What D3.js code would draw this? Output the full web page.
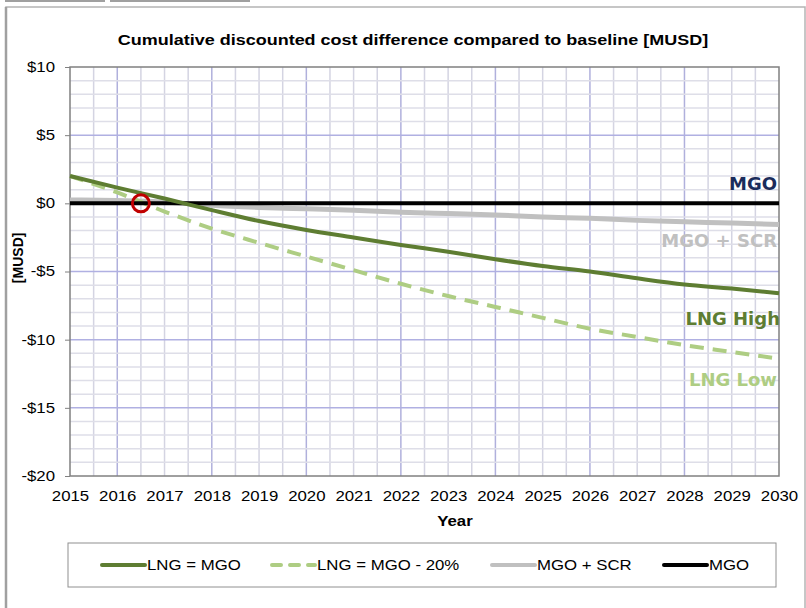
<!DOCTYPE html>
<html>
<head>
<meta charset="utf-8">
<script src="https://cdn.jsdelivr.net/npm/d3@7"></script>
<style>
  body { margin: 0; background: #fff; }
  svg { font-family: "Liberation Sans", Arial, sans-serif; }
  .axis path { display: none; }
  .axis line { stroke: #808080; }
  .axis text { font-size: 14px; fill: #000; }
  .note { font-family: "DejaVu Sans", Verdana, sans-serif; font-weight: bold; font-size: 18px; }
</style>
</head>
<body>
<svg width="806" height="608"></svg>
<script>
var years = [2015, 2016, 2017, 2018, 2019, 2020, 2021, 2022, 2023, 2024, 2025, 2026, 2027, 2028, 2029, 2030];
var lngHigh = [2.0, 1.15, 0.35, -0.5, -1.3, -1.95, -2.5, -3.05, -3.55, -4.1, -4.6, -5.0, -5.5, -5.95, -6.25, -6.6];
var lngLow = [2.0, 0.8, -0.6, -1.85, -2.9, -3.9, -4.9, -5.9, -6.8, -7.6, -8.4, -9.2, -9.8, -10.4, -10.9, -11.4];
var mgoScr = [0.25, 0.2, 0.1, -0.15, -0.3, -0.4, -0.5, -0.65, -0.75, -0.85, -1.0, -1.1, -1.25, -1.35, -1.45, -1.55];
var mgo = [0, 0, 0, 0, 0, 0, 0, 0, 0, 0, 0, 0, 0, 0, 0, 0];
var yTicks = [10, 5, 0, -5, -10, -15, -20];
var seriesNames = ["LNG = MGO", "LNG = MGO - 20%", "MGO + SCR", "MGO"];
var noteLabels = ["MGO", "MGO + SCR", "LNG High", "LNG Low"];
var breakEven = {year: 2016.5, value: 0};

var svg = d3.select("svg"),
    margin = {top: 67, right: 27, bottom: 132, left: 70},
    width = +svg.attr("width") - margin.left - margin.right,
    height = +svg.attr("height") - margin.top - margin.bottom;

var x = d3.scaleLinear().domain([2015, 2030]).range([0, width]),
    y = d3.scaleLinear().domain([-20, 10]).range([height, 0]);

var colors = ["#5e7d32", "#aecd83", "#c0c0c0", "#000000"];
var dashes = [null, "14,9", null, null];
var widths = [4, 4, 5, 4];
var series = [lngHigh, lngLow, mgoScr, mgo];

// the source picture is a bit wider than tall, so Arial text is stretched
var sx = 1.2;
function placeText(sel, px, py) {
  return sel.attr("transform", "translate(" + px + "," + py + ") scale(" + sx + ",1)");
}

// window chrome
svg.append("rect").attr("x", 5).attr("y", 0).attr("width", 100).attr("height", 2).attr("fill", "#a0a0a0");
svg.append("rect").attr("x", 110).attr("y", 0).attr("width", 140).attr("height", 2).attr("fill", "#a0a0a0");
svg.append("rect")
    .attr("x", 6).attr("y", 7).attr("width", 799).attr("height", 640)
    .attr("fill", "none").attr("stroke", "#b4b4b4").attr("stroke-width", 1.5);
svg.append("line").attr("x1", 6).attr("x2", 6).attr("y1", 7).attr("y2", 608)
    .attr("stroke", "#a0a0a0").attr("stroke-width", 2.5);

placeText(svg.append("text"), 413, 45)
    .attr("text-anchor", "middle")
    .attr("font-size", "15px").attr("font-weight", "bold")
    .text("Cumulative discounted cost difference compared to baseline [MUSD]");

var g = svg.append("g")
    .attr("transform", "translate(" + margin.left + "," + margin.top + ")");

// grid
var halfYears = d3.range(2015.5, 2030, 0.5);
g.selectAll(".vgrid")
  .data(halfYears)
  .enter().append("line")
    .attr("class", "vgrid")
    .attr("x1", function(d) { return x(d); })
    .attr("x2", function(d) { return x(d); })
    .attr("y1", 0).attr("y2", height)
    .attr("stroke", function(d) { return d % 2 === 0 ? "#b0b0dc" : "#d4d4e2"; })
    .attr("stroke-width", 1.5);

g.selectAll(".hgrid")
  .data(d3.range(-19, 10, 1))
  .enter().append("line")
    .attr("class", "hgrid")
    .attr("x1", 0).attr("x2", width)
    .attr("y1", function(d) { return y(d); })
    .attr("y2", function(d) { return y(d); })
    .attr("stroke", function(d) { return d % 5 === 0 ? "#b0b0e2" : "#dedee8"; })
    .attr("stroke-width", 1.5);

g.append("rect")
    .attr("width", width).attr("height", height)
    .attr("fill", "none").attr("stroke", "#808080").attr("stroke-width", 1.5);

g.append("g")
    .attr("class", "axis axis--x")
    .attr("transform", "translate(0," + height + ")")
    .call(d3.axisBottom(x).tickValues(years).tickFormat(d3.format("d")).tickSize(0).tickPadding(15))
  .selectAll("text")
    .attr("transform", "scale(" + sx + ",1)");

g.append("g")
    .attr("class", "axis axis--y")
    .call(d3.axisLeft(y).tickValues(yTicks).tickSize(5).tickPadding(7.5)
      .tickFormat(function(d) { return (d < 0 ? "-$" : "$") + Math.abs(d); }))
  .selectAll("text")
    .attr("transform", "scale(" + sx + ",1)");

placeText(g.append("text"), 385, height + 50)
    .attr("text-anchor", "middle")
    .attr("font-size", "14px").attr("font-weight", "bold")
    .text("Year");

g.append("text")
    .attr("transform", "translate(-47," + y(-4) + ") rotate(-90)")
    .attr("text-anchor", "middle")
    .attr("font-size", "14px").attr("font-weight", "bold")
    .text("[MUSD]");

var line = d3.line()
    .x(function(d, i) { return x(years[i]); })
    .y(function(d) { return y(d); })
    .curve(d3.curveMonotoneX);

// draw back to front: scr, low, mgo, high
[2, 1, 3, 0].forEach(function(k) {
  g.append("path")
      .datum(series[k])
      .attr("fill", "none")
      .attr("stroke", colors[k])
      .attr("stroke-width", widths[k])
      .attr("stroke-dasharray", dashes[k])
      .attr("d", line);
});

g.append("circle")
    .attr("cx", x(breakEven.year)).attr("cy", y(breakEven.value))
    .attr("r", 8.5)
    .attr("fill", "none").attr("stroke", "#c00000").attr("stroke-width", 3);

// notes at right end
var noteColors = ["#1a2c5b", "#c0c0c0", "#5e7d32", "#aecd83"];
var noteY = [1.0, -3.2, -8.9, -13.4];
g.selectAll(".note")
  .data(noteLabels)
  .enter().append("text")
    .attr("class", "note")
    .attr("x", function(d, i) { return i === 2 ? width + 1 : width - 2; })
    .attr("y", function(d, i) { return y(noteY[i]); })
    .attr("text-anchor", "end")
    .attr("fill", function(d, i) { return noteColors[i]; })
    .text(function(d) { return d; });

// legend
var legend = svg.append("g").attr("transform", "translate(68,543)");
legend.append("rect")
    .attr("width", 708).attr("height", 44)
    .attr("fill", "#fff").attr("stroke", "#909090");

var legendX = [32, 202, 422, 594];
var item = legend.selectAll(".item")
  .data(seriesNames)
  .enter().append("g")
    .attr("class", "item")
    .attr("transform", function(d, i) { return "translate(" + legendX[i] + ",22)"; });

item.append("line")
    .attr("x1", 2).attr("x2", 45)
    .attr("stroke", function(d, i) { return colors[i]; })
    .attr("stroke-width", 4)
    .attr("stroke-linecap", "round")
    .attr("stroke-dasharray", function(d, i) { return i === 1 ? "9,9" : null; });

item.append("text")
    .attr("transform", "translate(47,0) scale(" + sx + ",1)")
    .attr("dy", "0.35em")
    .attr("font-size", "14px")
    .text(function(d) { return d; });
</script>
</body>
</html>
